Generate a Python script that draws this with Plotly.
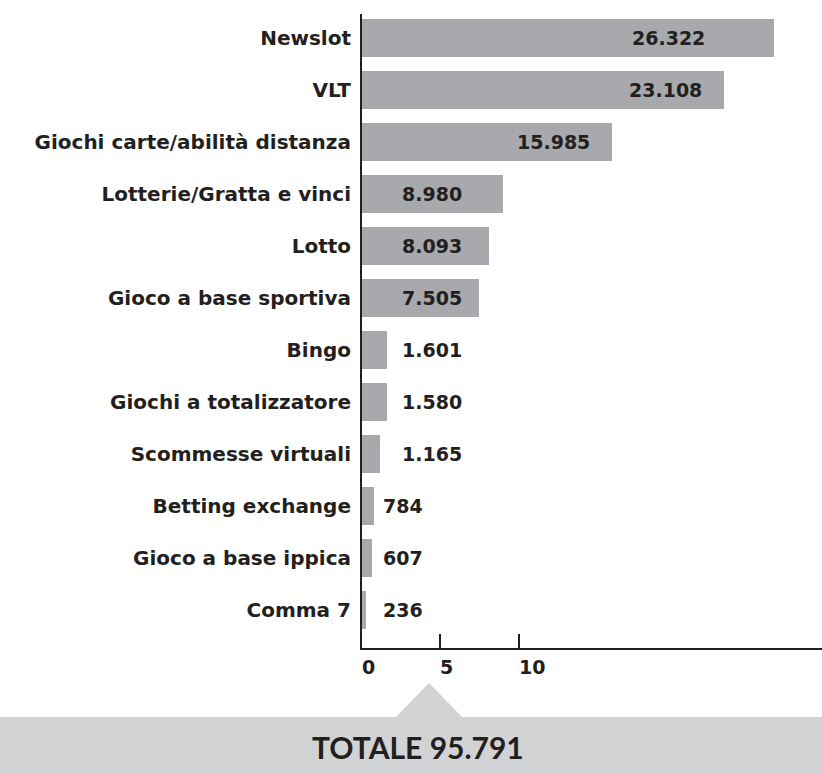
import plotly.graph_objects as go

# ---- data ----
categories = [
    "Newslot", "VLT", "Giochi carte/abilità distanza", "Lotterie/Gratta e vinci",
    "Lotto", "Gioco a base sportiva", "Bingo", "Giochi a totalizzatore",
    "Scommesse virtuali", "Betting exchange", "Gioco a base ippica", "Comma 7",
]
values = [26322, 23108, 15985, 8980, 8093, 7505, 1601, 1580, 1165, 784, 607, 236]
x_ticks = [0, 5, 10]
total_value = 95791

# ---- style ----
W, H = 822, 774
ML, MR, MT, MB = 362, 0, 14, 126
PXU = 15.65  # px per thousand
BAR = "#a7a9ac"
BOX = "#d1d3d4"
INK = "#231f20"
FONT = "DejaVu Sans"
FONT_T = "Lato"

def fmt(v):
    return f"{v:,}".replace(",", ".")

xs = [v / 1000 for v in values]
ys = list(range(len(categories)))
plot_w = W - ML - MR
plot_h = H - MT - MB
xmax = plot_w / PXU
pitch = 52.0

def px_x(p):
    return (p - ML) / plot_w

def px_y(p):
    return (H - MB - p) / plot_h

fig = go.Figure(go.Bar(
    x=xs, y=ys, orientation="h", width=0.73,
    marker=dict(color=BAR, line=dict(width=0)), hoverinfo="skip",
))

annotations = []
for i, x in enumerate(xs):
    if x < 1:
        lx = 1.2
    elif x < 10:
        lx = 2.45
    else:
        lx = min(x - 6.2, 17.1)
    annotations.append(dict(
        x=lx, y=i, xref="x", yref="y", text=fmt(values[i]), showarrow=False,
        xanchor="left", yanchor="middle",
        font=dict(family=FONT, size=19, color=INK, weight="bold"),
    ))
for t in x_ticks:
    annotations.append(dict(
        x=t, y=0, xref="x", yref="paper", text=str(t), showarrow=False,
        xanchor="left", yanchor="middle", yshift=-19, xshift=-2,
        font=dict(family=FONT, size=19, color=INK, weight="bold"),
    ))
annotations.append(dict(
    x=px_x(418), y=px_y(747), xref="paper", yref="paper",
    text=f"TOTALE {fmt(total_value)}", showarrow=False,
    xanchor="center", yanchor="middle",
    font=dict(family=FONT_T, size=30, color=INK, weight="bold"),
))

shapes = [
    dict(type="rect", xref="paper", yref="paper",
         x0=px_x(-5), x1=px_x(W + 5), y0=px_y(717), y1=px_y(H + 5),
         fillcolor=BOX, line=dict(width=0), layer="below"),
    dict(type="path", xref="paper", yref="paper",
         path=f"M {px_x(395)},{px_y(718)} L {px_x(429)},{px_y(683)} L {px_x(463)},{px_y(718)} Z",
         fillcolor=BOX, line=dict(width=0), layer="below"),
]

fig.update_layout(
    width=W, height=H, autosize=False,
    margin=dict(l=ML, r=MR, t=MT, b=MB, pad=0),
    paper_bgcolor="white", plot_bgcolor="white",
    showlegend=False, bargap=0,
    annotations=annotations, shapes=shapes,
    xaxis=dict(
        range=[0, xmax], showgrid=False, zeroline=False,
        showline=True, linecolor=INK, linewidth=1.5,
        ticks="inside", ticklen=14, tickwidth=1.5, tickcolor=INK,
        tickvals=x_ticks, showticklabels=False, fixedrange=True,
    ),
    yaxis=dict(
        range=[len(categories) - 1 + 38 / pitch, -24 / pitch],
        showgrid=False, zeroline=False,
        showline=True, linecolor=INK, linewidth=2,
        ticks="", tickvals=ys, ticktext=categories, ticklabelstandoff=5,
        tickfont=dict(family=FONT, size=20, color=INK, weight="bold"),
        fixedrange=True,
    ),
)

fig.write_html("out.html")
